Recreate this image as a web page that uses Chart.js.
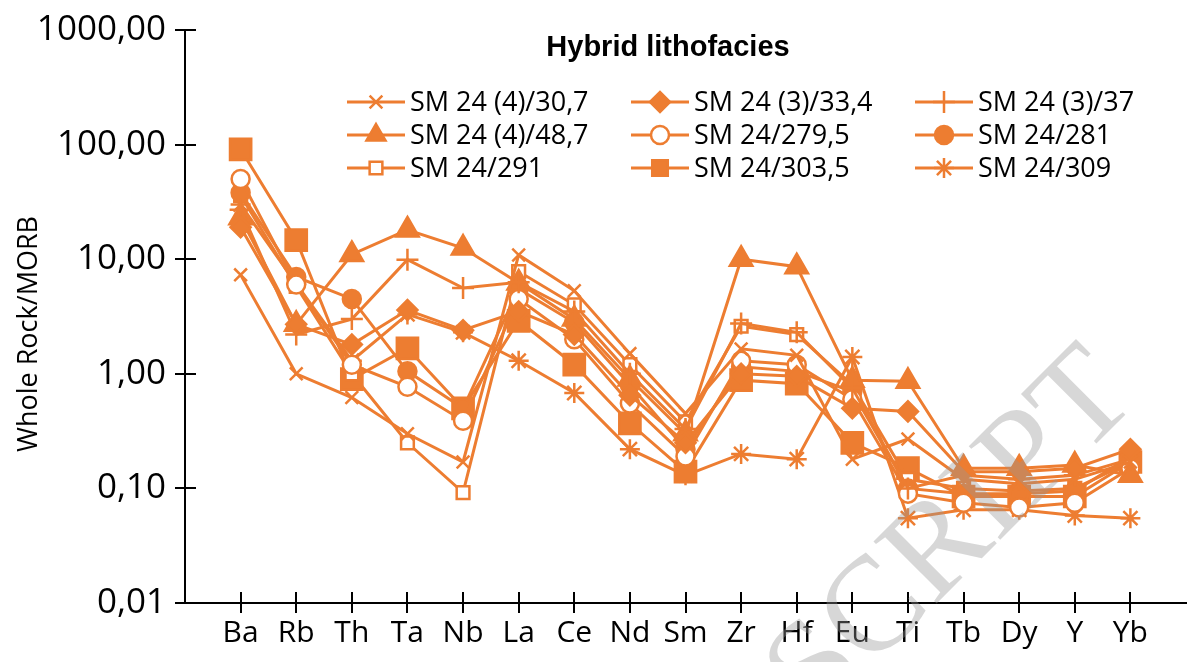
<!DOCTYPE html>
<html>
<head>
<meta charset="utf-8">
<script src="https://cdn.jsdelivr.net/npm/chart.js@4.4.1/dist/chart.umd.min.js"></script>
<style>
  html, body { margin: 0; padding: 0; background: #fff; overflow: hidden; }
  #wrap { width: 1187px; height: 662px; }
</style>
</head>
<body>
<div id="wrap"><canvas id="chart" width="1187" height="662"></canvas></div>
<script>
// elements on the x axis
const categories = ["Ba", "Rb", "Th", "Ta", "Nb", "La", "Ce", "Nd", "Sm", "Zr", "Hf", "Eu", "Ti", "Tb", "Dy", "Y", "Yb"];
const yTickValues = [0.01, 0.1, 1, 10, 100, 1000];

// normalised values
const sm24_4_30_7  = [7.3, 1.0, 0.62, 0.30, 0.17, 10.9, 5.3, 1.5, 0.45, 1.65, 1.45, 0.18, 0.27, 0.12, 0.11, 0.12, 0.17];
const sm24_3_33_4  = [19, 2.7, 1.8, 3.6, 2.4, 3.5, 2.2, 0.65, 0.25, 1.0, 0.95, 0.50, 0.47, 0.14, 0.14, 0.15, 0.22];
const sm24_3_37    = [27, 2.2, 3.0, 9.9, 5.6, 6.3, 3.5, 1.0, 0.33, 2.75, 2.3, 0.75, 0.10, 0.13, 0.12, 0.13, 0.18];
const sm24_4_48_7  = [23, 2.7, 11, 18, 12.5, 6.2, 3.0, 0.9, 0.30, 10, 8.6, 0.88, 0.86, 0.15, 0.15, 0.16, 0.13];
const sm24_279_5   = [50, 6.0, 1.2, 0.77, 0.39, 4.5, 2.0, 0.55, 0.19, 1.3, 1.2, 0.60, 0.09, 0.075, 0.068, 0.075, 0.15];
const sm24_281     = [38, 7.0, 4.5, 1.05, 0.50, 5.5, 2.8, 0.8, 0.22, 1.15, 1.05, 0.70, 0.10, 0.09, 0.09, 0.095, 0.19];
const sm24_291     = [36, 5.8, 1.0, 0.25, 0.092, 7.8, 4.0, 1.2, 0.38, 2.6, 2.2, 0.80, 0.12, 0.10, 0.095, 0.10, 0.17];
const sm24_303_5   = [91, 14.7, 0.9, 1.67, 0.50, 2.9, 1.2, 0.37, 0.14, 0.88, 0.82, 0.25, 0.15, 0.085, 0.085, 0.085, 0.17];
const sm24_309     = [30, 6.1, 1.3, 3.3, 2.3, 1.3, 0.68, 0.22, 0.13, 0.20, 0.18, 1.4, 0.055, 0.065, 0.065, 0.058, 0.055];

const ORANGE = "#ED7D31";

const seriesDefs = [
  { label: "SM 24 (4)/30,7", values: sm24_4_30_7, style: "crossRot", radius: 9, fill: false },
  { label: "SM 24 (3)/33,4", values: sm24_3_33_4, style: "rectRot", radius: 10, fill: true },
  { label: "SM 24 (3)/37", values: sm24_3_37, style: "cross", radius: 11, fill: false },
  { label: "SM 24 (4)/48,7", values: sm24_4_48_7, style: "triangle", radius: 13, fill: true },
  { label: "SM 24/279,5", values: sm24_279_5, style: "circle", radius: 9, fill: false },
  { label: "SM 24/281", values: sm24_281, style: "circle", radius: 9, fill: true },
  { label: "SM 24/291", values: sm24_291, style: "rect", radius: 9, fill: false },
  { label: "SM 24/303,5", values: sm24_303_5, style: "rect", radius: 15, fill: true },
  { label: "SM 24/309", values: sm24_309, style: "star", radius: 10, fill: false },
];

const datasets = seriesDefs.map((s) => ({
  label: s.label,
  data: s.values.map((v, i) => ({ x: i + 1, y: v })),
  borderColor: ORANGE,
  borderWidth: 3,
  pointStyle: s.style,
  pointRadius: s.radius,
  pointBorderWidth: 2.5,
  pointBorderColor: ORANGE,
  pointBackgroundColor: s.fill ? ORANGE : "#fff",
  tension: 0,
}));

const FONT = "'Open Sans', 'Noto Sans', sans-serif";

// category labels, title, legend, axis title and watermark drawn on top
const overlay = {
  id: "overlay",
  beforeDatasetsDraw(chart) {
    const { ctx, chartArea, scales } = chart;
    ctx.save();
    ctx.strokeStyle = "#000";
    ctx.lineWidth = 2;
    ctx.beginPath();
    for (const t of scales.y.ticks) {
      const py = Math.round(scales.y.getPixelForValue(t.value));
      ctx.moveTo(chartArea.left, py);
      ctx.lineTo(chartArea.left + 11, py);
    }
    for (const t of scales.x.ticks) {
      const px = Math.round(scales.x.getPixelForValue(t.value));
      ctx.moveTo(px, chartArea.bottom);
      ctx.lineTo(px, chartArea.bottom - 11);
    }
    ctx.stroke();

    ctx.fillStyle = "#000";
    ctx.font = `30px ${FONT}`;
    ctx.textAlign = "center";
    ctx.textBaseline = "middle";
    categories.forEach((c, i) => {
      ctx.fillText(c, scales.x.getPixelForValue(i + 1), chartArea.bottom + 30);
    });
    ctx.restore();
  },
  afterDraw(chart) {
    const ctx = chart.ctx;
    ctx.save();

    ctx.fillStyle = "#000";
    ctx.font = `bold 29px 'Liberation Sans', Arial, sans-serif`;
    ctx.textAlign = "center";
    ctx.textBaseline = "middle";
    ctx.fillText("Hybrid lithofacies", 668, 48);

    // y axis title
    ctx.save();
    ctx.translate(29, 334);
    ctx.rotate(-Math.PI / 2);
    ctx.font = `27px ${FONT}`;
    ctx.fillText("Whole Rock/MORB", 0, 0);
    ctx.restore();

    const cols = [376, 660, 944];
    const rows = [102, 135, 168];
    ctx.font = `27px ${FONT}`;
    ctx.textAlign = "left";
    seriesDefs.forEach((s, i) => {
      const cx = cols[i % 3];
      const cy = rows[Math.floor(i / 3)];
      ctx.strokeStyle = ORANGE;
      ctx.lineWidth = 3;
      ctx.beginPath();
      ctx.moveTo(cx - 29, cy);
      ctx.lineTo(cx + 29, cy);
      ctx.stroke();
      ctx.fillStyle = s.fill ? ORANGE : "#fff";
      ctx.lineWidth = 2.5;
      Chart.helpers.drawPoint(ctx, { pointStyle: s.style, radius: Math.min(s.radius, 11), rotation: 0, borderWidth: 2.5 }, cx, cy);
      ctx.fillStyle = "#000";
      ctx.fillText(s.label, cx + 34, cy + 1);
    });

    // faint watermark
    ctx.translate(1140, 400);
    ctx.rotate(-Math.PI / 4);
    ctx.font = "135px 'Liberation Serif', 'DejaVu Serif', serif";
    ctx.fillStyle = "rgba(150,150,150,0.38)";
    ctx.textAlign = "right";
    ctx.textBaseline = "alphabetic";
    ctx.fillText("ACCEPTED MANUSCRIPT", 0, 0);
    ctx.restore();
  },
};

new Chart(document.getElementById("chart"), {
  type: "line",
  data: { datasets },
  options: {
    responsive: false,
    devicePixelRatio: 1,
    animation: false,
    layout: { autoPadding: false, padding: { top: 27, right: 1, left: 0, bottom: 0 } },
    plugins: { legend: { display: false }, title: { display: false }, tooltip: { enabled: false } },
    scales: {
      x: {
        type: "linear",
        min: 0,
        max: categories.length + 1,
        afterBuildTicks: (scale) => { scale.ticks = categories.map((c, i) => ({ value: i + 1 })); },
        afterFit: (scale) => { scale.height = 59; },
        ticks: { display: false },
        grid: { drawOnChartArea: false, drawTicks: true, tickLength: 10, color: "#000", lineWidth: 2 },
        border: { display: true, color: "#000", width: 2 },
      },
      y: {
        type: "logarithmic",
        min: 0.01,
        max: 1000,
        afterBuildTicks: (scale) => { scale.ticks = yTickValues.map((v) => ({ value: v })); },
        afterFit: (scale) => { scale.width = 185; },
        ticks: {
          padding: 9,
          color: "#000",
          font: { family: FONT, size: 35 },
          callback: (v) => v.toFixed(2).replace(".", ","),
        },
        grid: { drawOnChartArea: false, drawTicks: true, tickLength: 10, color: "#000", lineWidth: 2 },
        border: { display: true, color: "#000", width: 2 },
      },
    },
  },
  plugins: [overlay],
});
</script>
</body>
</html>
